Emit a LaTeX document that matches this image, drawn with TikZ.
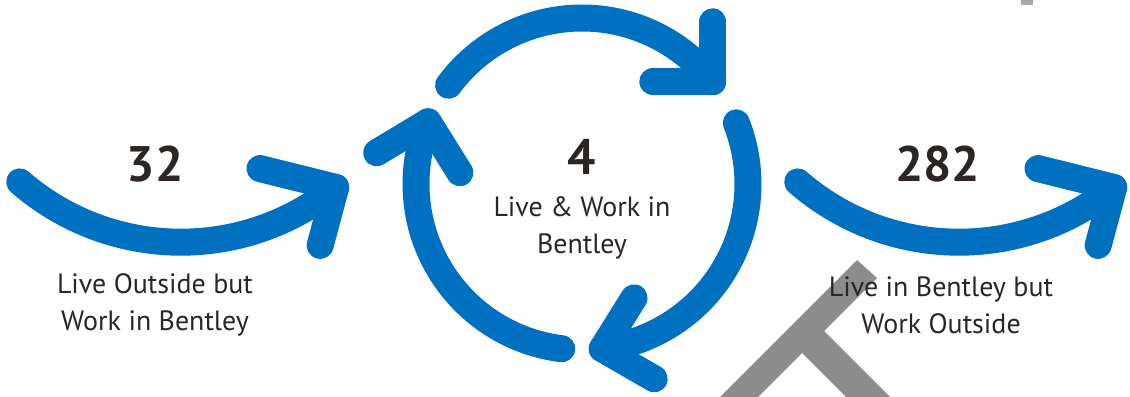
\documentclass[tikz,border=0pt]{standalone}
\usepackage{fontspec}
\setmainfont{PT Sans}
\usepackage{tikz}
\usetikzlibrary{calc}

\definecolor{flowblue}{RGB}{0,112,192}
\definecolor{inkdark}{HTML}{2B2624}
\definecolor{markgray}{HTML}{8C8C8C}

\tikzset{
  flow/.style={draw=flowblue, line width=0.54cm, line cap=round, line join=round},
  count/.style={font=\fontsize{28.4}{30}\selectfont\bfseries, text=inkdark, inner sep=0pt},
  caption/.style={font=\fontsize{15.9}{21}\selectfont, text=inkdark, align=center, inner sep=0pt}
}

\begin{document}
\begin{tikzpicture}[x=0.02cm, y=0.02cm]
  \useasboundingbox (0,0) rectangle (1130,396);

  % grey marks behind the text
  \begin{scope}
    \clip (0,0) rectangle (1130,396);
    \fill[markgray] (857,136) -- (877,118) -- (824,65) -- (903,-14) -- (859,-14)
      -- (802,43) -- (745,-14) -- (707,-14) -- cycle;
    \fill[markgray!75] (1021,391) rectangle (1033,396);
  \end{scope}

  % Cycle in the middle
  \coordinate (ctr) at (582,212);
  \draw[flow] ($(ctr)+(143.5:166)$) arc[start angle=143.5, end angle=38, radius=166] coordinate (tipa);
  \draw[flow] ($(tipa)+(90:60)$) -- (tipa) -- ($(tipa)+(180:60)$);

  \draw[flow] ($(ctr)+(21.6:166)$) arc[start angle=21.6, end angle=-83, radius=166] coordinate (tipb);
  \draw[flow] ($(tipb)+(58:60)$) -- (tipb) -- ($(tipb)+(-30:60)$);

  \draw[flow] ($(ctr)+(-97:166)$) arc[start angle=-97, end angle=-202, radius=166] coordinate (tipc);
  \draw[flow] ($(tipc)+(-58:60)$) -- (tipc) -- ($(tipc)+(-149:60)$);

  % Commuting in
  \coordinate (inc) at (181,399.6);
  \draw[flow] ($(inc)+(-131:245.8)$) arc[start angle=-131, end angle=-51, radius=245.8] coordinate (tipin);
  \draw[flow] ($(tipin)+(166:78)$) -- (tipin) -- ($(tipin)+(255:60)$);

  % Commuting out
  \coordinate (outc) at (959,399.6);
  \draw[flow] ($(outc)+(-131:245.8)$) arc[start angle=-131, end angle=-51, radius=245.8] coordinate (tipout);
  \draw[flow] ($(tipout)+(166:78)$) -- (tipout) -- ($(tipout)+(255:60)$);

  % Counts and captions
  \node[count, anchor=base] (nin) at (155,214) {32};
  \node[count, anchor=base] (nboth) at (581.5,221) {4};
  \node[count, anchor=base] (nout) at (937.5,214) {282};

  \node[caption] (capin) at (155,91) {Live Outside but\\Work in Bentley};
  \node[caption] (capboth) at (582,168) {Live \& Work in\\Bentley};
  \node[caption] (capout) at (941,91) {Live in Bentley but\\Work Outside};
\end{tikzpicture}
\end{document}
